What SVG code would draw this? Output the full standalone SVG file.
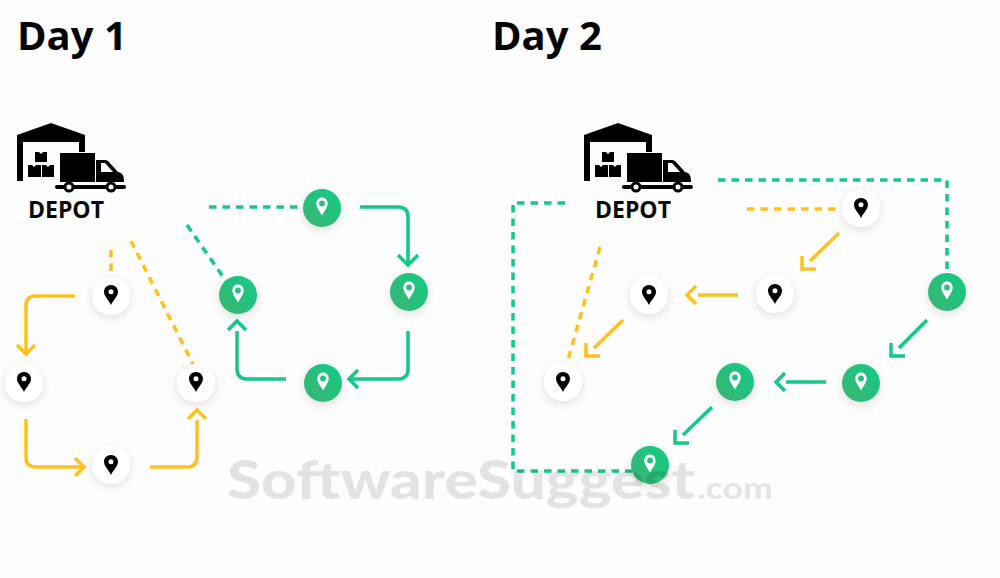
<svg xmlns="http://www.w3.org/2000/svg" width="1000" height="578" viewBox="0 0 1000 578">
<defs>
<linearGradient id="gr" x1="0" y1="1" x2="1" y2="0"><stop offset="0" stop-color="#3cb371"/><stop offset="1" stop-color="#12cc87"/></linearGradient>
<filter id="sh" x="-60%" y="-60%" width="220%" height="220%"><feDropShadow dx="0" dy="3" stdDeviation="5" flood-color="#000" flood-opacity="0.12"/></filter>
<path id="pb" fill="#000" fill-rule="evenodd" d="M0-10C-4.200-10-7-6.800-7-3.200C-7 1-2.500 5 0 10C2.500 5 7 1 7-3.200C7-6.800 4.200-10 0-10Z M0-5.800A2.500 2.500 0 1 0 0-.8A2.500 2.500 0 1 0 0-5.800Z"/>
<path id="pw" fill="#fff" fill-rule="evenodd" d="M0-9.500C-3.400-9.500-5.700-6.800-5.700-3.500C-5.700 .5-2 4.500 0 8.500C2 4.500 5.700 .5 5.700-3.500C5.700-6.800 3.400-9.500 0-9.500Z M0-6.400A2.900 2.900 0 1 0 0-.6A2.900 2.900 0 1 0 0-6.400Z"/>
<g id="bld">
<path d="M0 18L34 6L68 18V35H62V25H6V64H0Z"/>
<path d="M18 35h4l2 2 2-2h4v10H18ZM11 48h4l2 2 2-2h5v12H11ZM25 48h4l2 2 2-2h4v12H25Z"/>
<path d="M43 36H78V65H43Z"/>
<path d="M79 43H88C90 43 91 44 92 45L101 55C106 56 107 59 107 65H79Z"/>
<path d="M84 46V55H96L89 47C88.500 46.500 88 46 87 46Z" fill="#fdfdfd"/>
<rect x="38" y="68" width="71" height="4" rx="2"/>
<circle cx="52" cy="70" r="5.500"/><circle cx="52" cy="70" r="2.500" fill="#fdfdfd"/>
<circle cx="94" cy="70" r="5.500"/><circle cx="94" cy="70" r="2.500" fill="#fdfdfd"/>
</g>
</defs>
<style>
.y{stroke:#ffc11e}.g{stroke:#12c987}
.s{fill:none;stroke-width:3.5;stroke-linejoin:miter}
.d{fill:none;stroke-width:3.500;stroke-dasharray:7.500 6}
.w{fill:#fff;filter:url(#sh)}
.gc{fill:url(#gr);filter:url(#sh)}
.t{font-family:"Open Sans","Noto Sans",sans-serif;font-weight:700;font-size:40px;fill:#050505}
.dp{font-family:"Open Sans","Noto Sans",sans-serif;font-weight:700;font-size:23px;fill:#0a0a0a}
.wm{font-family:Lato,"Open Sans",sans-serif;font-weight:900;fill:#000;fill-opacity:.1}
</style>
<rect width="1000" height="578" fill="#fdfdfd"/>
<text class="t" x="17" y="50">Day 1</text>
<text class="t" x="492" y="50">Day 2</text>
<g id="depot1"><use href="#bld" x="17" y="117"/><text class="dp" x="28" y="218">DEPOT</text></g>
<g id="depot2"><use href="#bld" x="584" y="117"/><text class="dp" x="595" y="218">DEPOT</text></g>
<g id="connectors">
<path class="d y" d="M111 250V284"/>
<path class="d y" d="M131 241L193 364"/>
<path class="d g" d="M187 225L226 281"/>
<path class="d g" d="M209 207H300"/>
<path class="s y" d="M75 296H36Q26 296 26 306V353M17 345L26 354L35 345"/>
<path class="s y" d="M26 419V457Q26 467 36 467H84M75 458L84 467L75 476"/>
<path class="s y" d="M150 467H187Q197 467 197 457V420M188 419L197 410L206 419"/>
<path class="s g" d="M360 207H398Q408 207 408 217V264M398 255L408 265L418 255"/>
<path class="s g" d="M408 331V369Q408 379 398 379H350M358 370L349 379L358 388"/>
<path class="s g" d="M286 379H247Q237 379 237 369V331M228 330L237 321L246 330"/>
<path class="d g" d="M718 180H947V272"/>
<path class="d g" d="M565 203H513V471H632"/>
<path class="d y" d="M747 209H838"/>
<path class="d y" d="M600 247L568 360"/>
<path class="s y" d="M839 233L810 261M802 256V269H816"/>
<path class="s y" d="M738 295H698M696 286L687 295L696 304"/>
<path class="s y" d="M623 320L594 348M586 343V356H600"/>
<path class="s g" d="M927 320L899 348M891 343V356H905"/>
<path class="s g" d="M826 382H786M785 373L776 382L785 391"/>
<path class="s g" d="M712 407L683 435M675 430V443H689"/>
</g>
<g id="n1"><circle class="w" cx="111" cy="296" r="19"/><use href="#pb" x="111" y="295"/></g>
<g id="n2"><circle class="w" cx="24" cy="383" r="19"/><use href="#pb" x="24" y="382"/></g>
<g id="n3"><circle class="w" cx="111" cy="465" r="19"/><use href="#pb" x="111" y="465"/></g>
<g id="n4"><circle class="w" cx="196" cy="383" r="19"/><use href="#pb" x="196" y="382"/></g>
<g id="n5"><circle class="gc" cx="238" cy="295" r="19"/><use href="#pw" x="238" y="294"/></g>
<g id="n6"><circle class="gc" cx="322" cy="208" r="19"/><use href="#pw" x="322" y="207"/></g>
<g id="n7"><circle class="gc" cx="409" cy="292" r="19"/><use href="#pw" x="409" y="291"/></g>
<g id="n8"><circle class="gc" cx="323" cy="383" r="19"/><use href="#pw" x="323" y="382"/></g>
<g id="n9"><circle class="w" cx="861" cy="208" r="19"/><use href="#pb" x="861" y="208"/></g>
<g id="n10"><circle class="w" cx="775" cy="294" r="19"/><use href="#pb" x="775" y="294"/></g>
<g id="n11"><circle class="w" cx="649" cy="295" r="19"/><use href="#pb" x="649" y="295"/></g>
<g id="n12"><circle class="w" cx="563" cy="382" r="19"/><use href="#pb" x="563" y="382"/></g>
<g id="n13"><circle class="gc" cx="947" cy="292" r="19"/><use href="#pw" x="947" y="291"/></g>
<g id="n14"><circle class="gc" cx="861" cy="383" r="19"/><use href="#pw" x="861" y="382"/></g>
<g id="n15"><circle class="gc" cx="735" cy="382" r="19"/><use href="#pw" x="735" y="381"/></g>
<g id="n16"><circle class="gc" cx="650" cy="465" r="19"/><use href="#pw" x="650" y="464"/></g>
<text class="wm" x="227" y="499" font-size="54" textLength="468" lengthAdjust="spacingAndGlyphs">SoftwareSuggest</text>
<text class="wm" x="697" y="499" font-size="30" textLength="76" lengthAdjust="spacingAndGlyphs">.com</text>
</svg>
